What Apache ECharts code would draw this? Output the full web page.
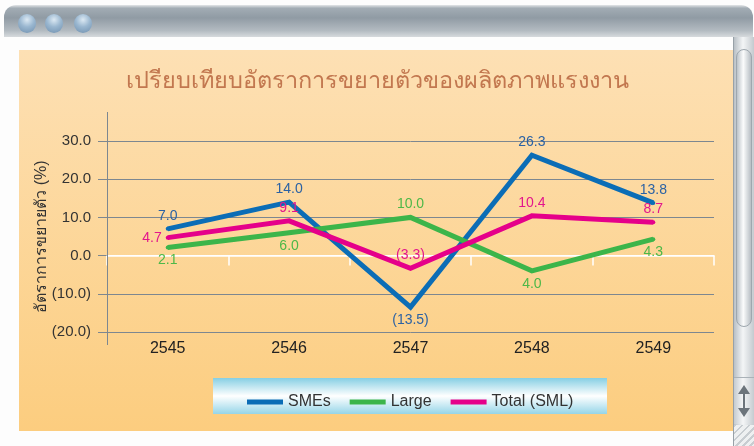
<!DOCTYPE html>
<html>
<head>
<meta charset="utf-8">
<script src="https://cdn.jsdelivr.net/npm/echarts@6/dist/echarts.min.js"></script>
<style>
  html, body { margin: 0; padding: 0; background: #fff; }
  #frame { position: relative; width: 754px; height: 446px; overflow: hidden; background: #fdfdfd; }
  #titlebar {
    position: absolute; left: 4px; top: 5px; width: 749px; height: 32px;
    border-radius: 12px 12px 0 0;
    background: linear-gradient(#e3e6e8 0, #a2acb4 10%, #909ba4 40%, #b3bbc1 80%, #d6dadd 100%);
  }
  .dot {
    position: absolute; top: 9px; width: 18px; height: 19px; border-radius: 50%;
    background: radial-gradient(circle at 50% 30%, #dce9f3 0, #9ab7d0 45%, #6f8fae 100%);
  }
  #panel { position: absolute; left: 19px; top: 50px; width: 714px; height: 381px;
    background: linear-gradient(#fde0b4, #fccd7f); }
  #scroll { position: absolute; left: 733px; top: 37px; width: 21px; height: 409px;
    background: linear-gradient(90deg, #b9c0c6, #f3f5f6 45%, #c4cacf); border-left: 1px solid #98a1a8; box-sizing: border-box; }
  #thumb { position: absolute; left: 2px; top: 12px; width: 16px; height: 278px; border-radius: 8px;
    background: linear-gradient(90deg, #bcc3c9, #fbfcfc 45%, #b7bec4); border: 1px solid #9ea7ae; box-sizing: border-box; }
  #arrows { position: absolute; left: 0; top: 340px; width: 20px; height: 46px;
    background: linear-gradient(90deg, #c5cbd0, #f5f6f7 45%, #c5cbd0); border-top: 1px solid #aab2b8; }
  .up { position: absolute; left: 4px; top: 7px; border-left: 6px solid transparent; border-right: 6px solid transparent; border-bottom: 9px solid #6c747b; }
  .dn { position: absolute; left: 4px; top: 30px; border-left: 6px solid transparent; border-right: 6px solid transparent; border-top: 9px solid #6c747b; }
  .stem { position: absolute; left: 9px; top: 15px; width: 2px; height: 16px; background: #6c747b; }
  #grip { position: absolute; left: 0; top: 388px; width: 20px; height: 21px;
    background: repeating-linear-gradient(135deg, #c8cdd1 0 2px, #eef0f1 2px 5px); }
  #chart { position: absolute; left: 0; top: 0; width: 754px; height: 446px; }
</style>
</head>
<body>
<div id="frame">
  <div id="titlebar">
    <div class="dot" style="left:14px"></div>
    <div class="dot" style="left:41px"></div>
    <div class="dot" style="left:70px"></div>
  </div>
  <div id="panel"></div>
  <div id="scroll">
    <div id="thumb"></div>
    <div id="arrows"><div class="up"></div><div class="stem"></div><div class="dn"></div></div>
    <div id="grip"></div>
  </div>
  <div id="chart"></div>
</div>
<script>
const years = ["2545", "2546", "2547", "2548", "2549"];
const smes = [7.0, 14.0, -13.5, 26.3, 13.8];
const large = [2.1, 6.0, 10.0, -4.0, 4.3];
const total = [4.7, 9.1, -3.3, 10.4, 8.7];
// label text as printed on the original
const smesText = ["7.0", "14.0", "(13.5)", "26.3", "13.8"];
const largeText = ["2.1", "6.0", "10.0", "4.0", "4.3"];
const totalText = ["4.7", "9.1", "(3.3)", "10.4", "8.7"];

const chart = echarts.init(document.getElementById("chart"));
const font = "'Liberation Sans', 'Noto Sans', sans-serif";

function makeData(values, places) {
  return values.map((v, i) => ({ value: v, label: { position: places[i] } }));
}

function makeSeries(name, values, texts, places, color, labelColor) {
  return {
    name: name,
    type: "line",
    xAxisIndex: 0,
    data: makeData(values, places),
    symbol: "circle",
    symbolSize: 4,
    itemStyle: { color: color },
    lineStyle: { color: color, width: 5, join: "miter" },
    label: {
      show: true,
      distance: 4,
      color: labelColor,
      fontSize: 14,
      fontFamily: font,
      formatter: (p) => texts[p.dataIndex]
    },
    emphasis: { disabled: true },
    z: 3
  };
}

const gridGray = "#7d8790";

const option = {
  animation: false,
  title: {
    text: "เปรียบเทียบอัตราการขยายตัวของผลิตภาพแรงงาน",
    left: "center",
    top: 65,
    textStyle: { color: "#c2774f", fontSize: 23.5, fontWeight: "normal", fontFamily: font }
  },
  grid: { left: 107, right: 40, top: 141, bottom: 114, outerBoundsMode: "none" },
  legend: {
    left: 242,
    top: 389,
    icon: "rect",
    itemWidth: 36,
    itemHeight: 5,
    itemGap: 19,
    textStyle: { color: "#333", fontSize: 16, fontFamily: font },
    data: ["SMEs", "Large", "Total (SML)"]
  },
  xAxis: [
    {
      type: "category",
      position: "bottom",
      data: years,
      axisLine: { show: false, onZero: false },
      axisTick: { show: false },
      axisLabel: { color: "#222", fontSize: 16, margin: 9, fontFamily: font }
    },
    {
      type: "category",
      position: "top",
      data: years,
      axisLine: { show: true, onZero: true, lineStyle: { color: "#ffffff", width: 1.5 } },
      axisTick: { show: true, inside: true, length: 10, lineStyle: { color: "#ffffff", width: 1.5 } },
      axisLabel: { show: false }
    }
  ],
  yAxis: {
    type: "value",
    min: -20,
    max: 30,
    interval: 10,
    axisLine: { show: false },
    axisTick: { show: true, length: 9, lineStyle: { color: gridGray } },
    splitLine: {
      lineStyle: { color: [gridGray, gridGray, "#ffffff", gridGray, gridGray, gridGray], width: 1 }
    },
    axisLabel: {
      color: "#333",
      fontSize: 15,
      margin: 16,
      fontFamily: font,
      formatter: (v) => (v < 0 ? "(" + (-v).toFixed(1) + ")" : v.toFixed(1))
    },
    name: "อัตราการขยายตัว (%)",
    nameLocation: "middle",
    nameRotate: 90,
    nameGap: 57,
    nameMoveOverlap: false,
    nameTextStyle: { color: "#333", fontSize: 16, fontFamily: font }
  },
  graphic: [
    {
      type: "rect",
      shape: { x: 213, y: 378, width: 394, height: 36 },
      style: {
        fill: {
          type: "linear", x: 0, y: 0, x2: 0, y2: 1,
          colorStops: [
            { offset: 0, color: "#86cfe4" },
            { offset: 0.5, color: "#ffffff" },
            { offset: 1, color: "#95d5e8" }
          ]
        }
      },
      z: -1
    },
    {
      type: "line",
      shape: { x1: 107.5, y1: 112, x2: 107.5, y2: 345 },
      style: { stroke: gridGray, lineWidth: 1 },
      z: 1
    }
  ],
  series: [
    makeSeries("SMEs", smes, smesText, ["top", "top", "bottom", "top", "top"], "#0b6db6", "#2b62a4"),
    makeSeries("Large", large, largeText, ["bottom", "bottom", "top", "bottom", "bottom"], "#3cb54a", "#4db848"),
    makeSeries("Total (SML)", total, totalText, ["left", "top", "top", "top", "top"], "#e5008a", "#e3168c")
  ]
};

chart.setOption(option);
</script>
</body>
</html>
